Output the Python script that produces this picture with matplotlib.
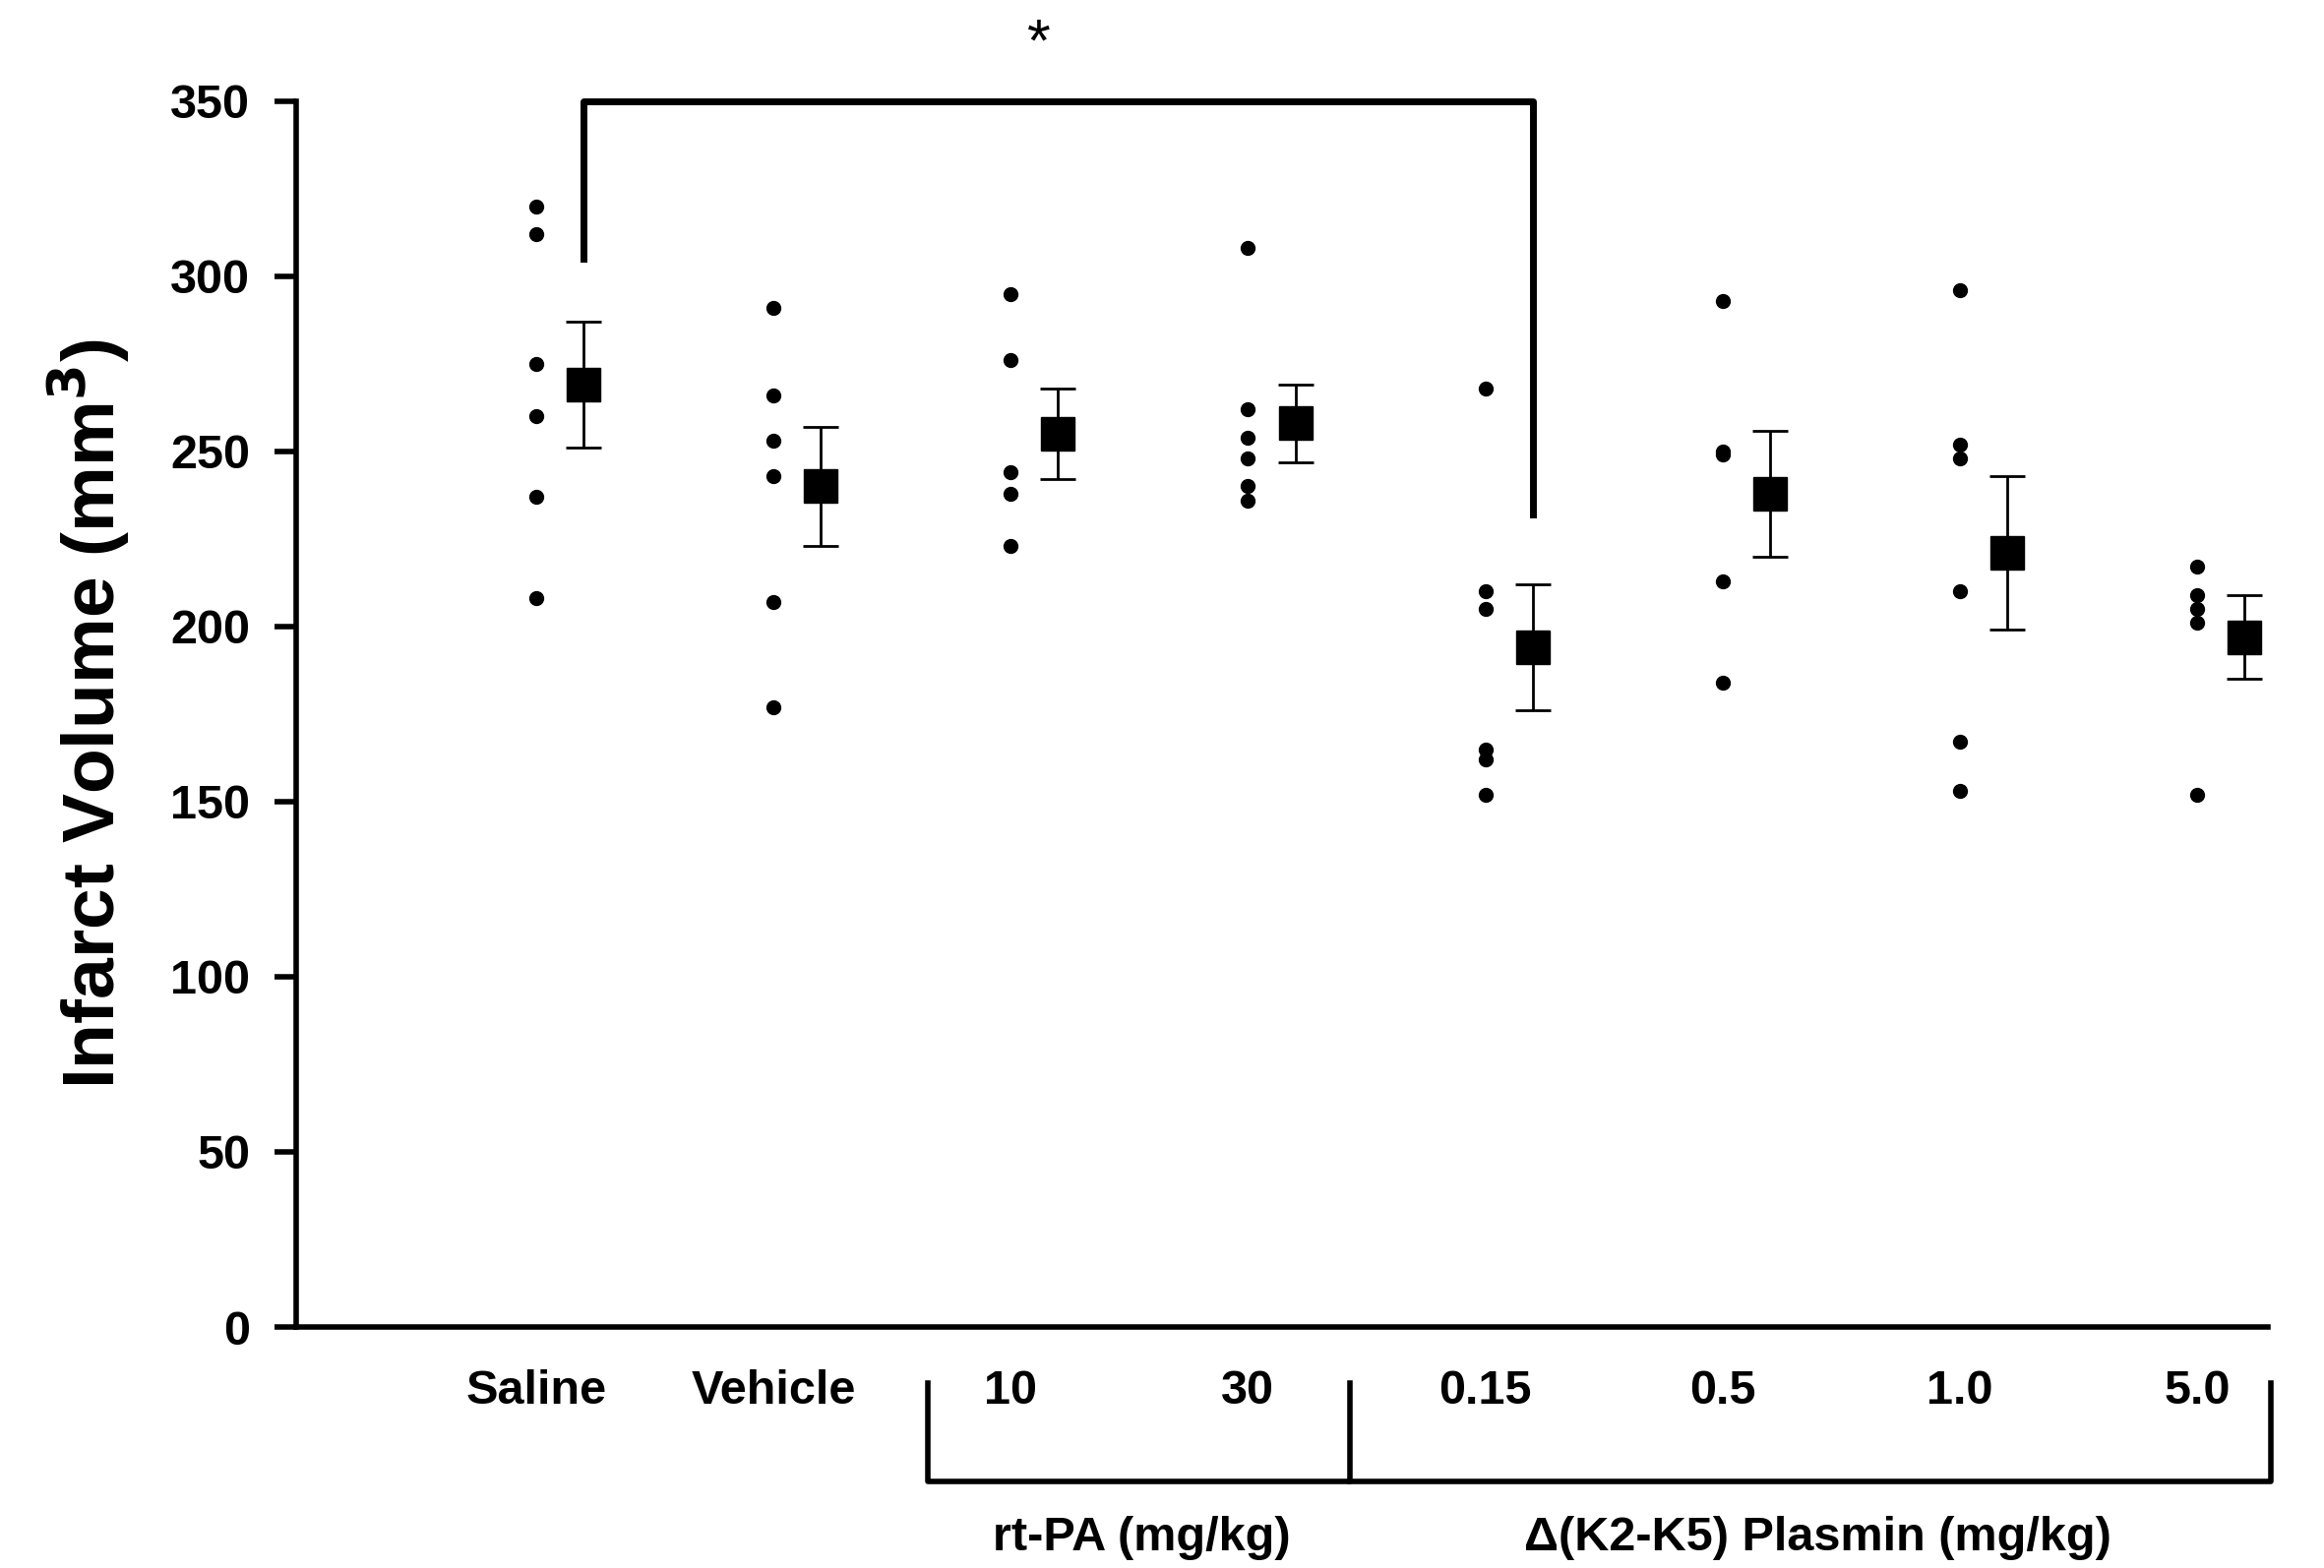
import matplotlib.pyplot as plt
import numpy as np

plt.rcParams['font.family'] = ['Liberation Sans', 'DejaVu Sans']

groups = ['Saline', 'Vehicle', '10', '30', '0.15', '0.5', '1.0', '5.0']
points = [
    [320, 312, 275, 260, 237, 208],
    [291, 266, 253, 243, 207, 177],
    [295, 276, 244, 238, 223],
    [308, 262, 254, 248, 240, 236],
    [268, 210, 205, 165, 162, 152],
    [293, 250, 249, 213, 184],
    [296, 252, 248, 210, 167, 153],
    [217, 209, 205, 201, 152],
]
means = [269, 240, 255, 258, 194, 238, 221, 197]
sem = [18, 17, 13, 11, 18, 18, 22, 12]

fig = plt.figure(figsize=(23.62, 15.94), dpi=100)
ax = fig.add_axes([0.1276, 0.1537, 0.8484, 0.7818])
x = np.arange(len(groups))
off = 0.2
for i, vals in enumerate(points):
    ax.plot([i] * len(vals), vals, 'o', color='black', ms=10, clip_on=False)
ax.errorbar(x + off, means, yerr=sem, fmt='s', color='black', ms=24,
            ecolor='black', elinewidth=2, capsize=13, capthick=2)

ax.set_xlim(-1.01, 7.3)
ax.set_ylim(0, 350)
ax.set_yticks(range(0, 351, 50))
ax.spines['top'].set_visible(False)
ax.spines['right'].set_visible(False)
ax.spines['left'].set_linewidth(4)
ax.spines['bottom'].set_linewidth(4)
ax.tick_params(axis='y', length=16, width=4, labelsize=35, pad=18)
for t in ax.get_yticklabels():
    t.set_fontweight('bold')
ax.set_xticks([])
ax.set_ylabel('Infarct Volume (mm$^\\mathbf{3}$)', fontsize=54, fontweight='bold', labelpad=28)

# group labels under axis
for i, g in enumerate(groups):
    ax.text(i, -12, g, ha='center', va='top', fontsize=35, fontweight='bold', clip_on=False)

# significance bracket
ax.plot([0 + off, 0 + off, 4 + off, 4 + off], [305, 350, 350, 232], color='black', lw=5, clip_on=False)
ax.text(2.12, 358, '*', ha='center', va='bottom', fontsize=44, clip_on=False)

# group brackets
kw = dict(color='black', lw=4, clip_on=False)
ax.plot([1.65, 1.65, 3.43, 3.43], [-16, -44, -44, -16], **kw)
ax.plot([3.43, 7.31, 7.31], [-44, -44, -16], **kw)
ax.text(2.55, -54, 'rt-PA (mg/kg)', ha='center', va='top', fontsize=35, fontweight='bold', clip_on=False)
ax.text(5.4, -54, 'Δ(K2-K5) Plasmin (mg/kg)', ha='center', va='top', fontsize=35, fontweight='bold', clip_on=False)

fig.savefig('out.png', dpi=100)
